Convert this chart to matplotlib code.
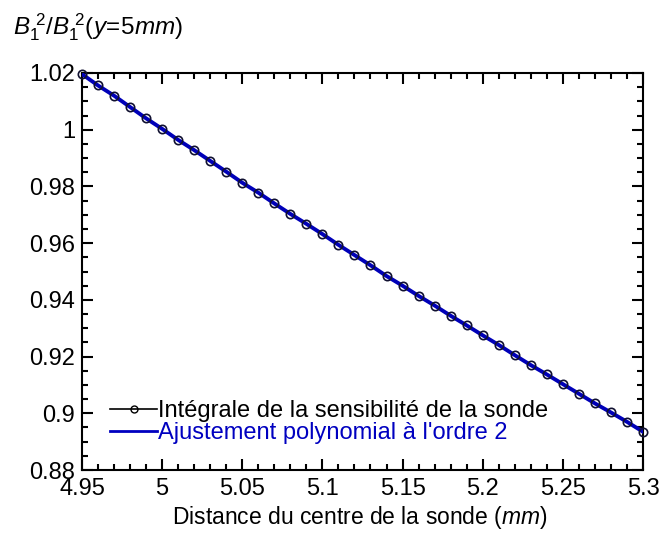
import matplotlib
matplotlib.use("Agg")
import matplotlib.pyplot as plt
from matplotlib.lines import Line2D
from matplotlib.ticker import MultipleLocator, FuncFormatter

plt.rcParams['font.family'] = ['Liberation Sans', 'DejaVu Sans']
plt.rcParams['mathtext.fontset'] = 'custom'
plt.rcParams['mathtext.rm'] = 'Liberation Sans'
plt.rcParams['mathtext.it'] = 'Liberation Sans:italic'

distance_mm = [4.95, 4.96, 4.97, 4.98, 4.99, 5.00, 5.01, 5.02, 5.03, 5.04, 5.05, 5.06,
               5.07, 5.08, 5.09, 5.10, 5.11, 5.12, 5.13, 5.14, 5.15, 5.16, 5.17, 5.18,
               5.19, 5.20, 5.21, 5.22, 5.23, 5.24, 5.25, 5.26, 5.27, 5.28, 5.29, 5.30]
integrale = [1.0196, 1.0156, 1.0120, 1.0080, 1.0040, 1.0003, 0.9964, 0.9928, 0.9890,
             0.9852, 0.9813, 0.9778, 0.9740, 0.9703, 0.9668, 0.9632, 0.9594, 0.9558,
             0.9522, 0.9484, 0.9450, 0.9414, 0.9380, 0.9344, 0.9310, 0.9275, 0.9241,
             0.9205, 0.9170, 0.9137, 0.9103, 0.9069, 0.9035, 0.9003, 0.8970, 0.8935]
ajustement = integrale

x_ticks = [4.95, 5.0, 5.05, 5.1, 5.15, 5.2, 5.25, 5.3]
y_ticks = [0.88, 0.9, 0.92, 0.94, 0.96, 0.98, 1.0, 1.02]

fig = plt.figure(figsize=(6.59, 5.41), dpi=100)
ax = fig.add_axes([0.1244, 0.1312, 0.8513, 0.7339])

ax.plot(distance_mm, integrale, color='black', lw=1.0, zorder=2)
ax.plot(distance_mm, ajustement, color='#0000b8', lw=2.8, zorder=3)
ax.plot(distance_mm, integrale, ls='none', marker='o', ms=6, mfc='none',
        mec='#101030', mew=1.2, zorder=4, clip_on=False)

ax.set_xlim(4.95, 5.3)
ax.set_ylim(0.88, 1.02)
ax.set_xticks(x_ticks)
ax.set_yticks(y_ticks)
ax.xaxis.set_minor_locator(MultipleLocator(0.01))
ax.yaxis.set_minor_locator(MultipleLocator(0.005))

def fmt(v, pos):
    s = ('%.2f' % v).rstrip('0').rstrip('.')
    return s
ax.xaxis.set_major_formatter(FuncFormatter(fmt))
ax.yaxis.set_major_formatter(FuncFormatter(fmt))

ax.tick_params(which='both', direction='in', top=True, right=True, labelsize=17, width=1.5)
ax.tick_params(which='major', length=8)
ax.tick_params(axis='x', which='major', pad=6)
ax.tick_params(axis='y', which='major', pad=5)
ax.tick_params(which='minor', length=4)
for s in ax.spines.values():
    s.set_linewidth(1.5)

h1 = Line2D([], [], color='black', lw=1.2, marker='o', ms=5, mfc='none', mec='black')
h2 = Line2D([], [], color='#0000c0', lw=2)
leg = ax.legend([h1, h2], ["Intégrale de la sensibilité de la sonde",
                           "Ajustement polynomial à l'ordre 2"],
                loc='lower left', bbox_to_anchor=(0.05, 0.065), frameon=False,
                fontsize=17, handlelength=2.0, handletextpad=0.05,
                labelspacing=0.0, borderpad=0, borderaxespad=0)
leg.get_texts()[1].set_color('#0000c0')

fig.text(0.02, 0.937, r'$B_{1}^{\ 2}/B_{1}^{\ 2}(y\!=\!5mm)$', fontsize=17.5, ha='left', va='baseline')
fig.text(0.546, 0.032, r'Distance du centre de la sonde ($mm$)', fontsize=16.5, ha='center', va='baseline')

fig.savefig('out.png', dpi=100)
